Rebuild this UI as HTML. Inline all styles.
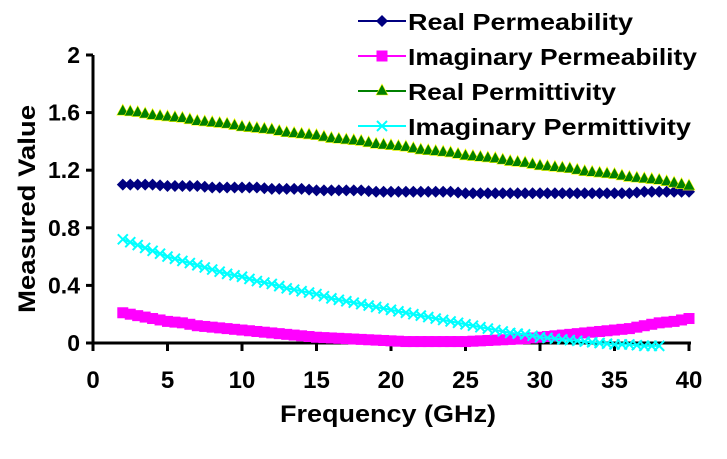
<!DOCTYPE html>
<html><head><meta charset="utf-8"><style>
body{margin:0;background:#fff;}
text{font-family:"Liberation Sans",Arial,sans-serif;font-weight:bold;}
</style></head><body>
<svg id="chart" width="727" height="454" xmlns="http://www.w3.org/2000/svg"></svg>
<script>
const freqs=[2,3,4,5,6,7,8,9,10,11,12,13,14,15,16,17,18,19,20,21,22,23,24,25,26,27,28,29,30,31,32,33,34,35,36,37,38,39,40];
const realPerm=[1.10,1.10,1.10,1.09,1.09,1.09,1.08,1.08,1.08,1.08,1.07,1.07,1.07,1.06,1.06,1.06,1.06,1.05,1.05,1.05,1.05,1.05,1.05,1.04,1.04,1.04,1.04,1.04,1.04,1.04,1.04,1.04,1.04,1.04,1.04,1.05,1.05,1.05,1.05];
const imagPerm=[0.21,0.19,0.17,0.15,0.14,0.12,0.11,0.10,0.09,0.08,0.07,0.06,0.05,0.04,0.035,0.03,0.025,0.02,0.015,0.01,0.01,0.01,0.01,0.01,0.015,0.02,0.025,0.03,0.04,0.05,0.06,0.07,0.08,0.09,0.10,0.12,0.14,0.15,0.17];
const realPermit=[1.61,1.60,1.58,1.57,1.56,1.54,1.53,1.52,1.50,1.49,1.48,1.46,1.45,1.44,1.42,1.41,1.40,1.38,1.37,1.36,1.34,1.33,1.32,1.30,1.29,1.28,1.26,1.25,1.23,1.22,1.21,1.19,1.18,1.17,1.15,1.14,1.13,1.11,1.09];
const imagPermit=[0.72,0.68,0.64,0.60,0.57,0.54,0.51,0.48,0.46,0.43,0.41,0.38,0.36,0.34,0.31,0.29,0.27,0.25,0.23,0.21,0.19,0.17,0.15,0.13,0.11,0.09,0.07,0.06,0.04,0.03,0.02,0.01,0.0,-0.01,-0.01,-0.02,-0.02,null,null];
const xTicks=[0,5,10,15,20,25,30,35,40];
const yTicks=[0,0.4,0.8,1.2,1.6,2];
const yTickLabels=["0","0.4","0.8","1.2","1.6","2"];
const seriesNames=["Real Permeability","Imaginary Permeability","Real Permittivity","Imaginary Permittivity"];
const legendWidths=[225,289,208,283];

const NS="http://www.w3.org/2000/svg";
const svg=document.getElementById('chart');
const X0=93,X1=689,Y0=343,Y1=55;
const xs=v=>X0+(v-0)/(40-0)*(X1-X0);
const ys=v=>Y0-(v-0)/(2-0)*(Y0-Y1);
function mk(tag,attrs,parent){const e=document.createElementNS(NS,tag);for(const k in attrs)e.setAttribute(k,attrs[k]);(parent||svg).appendChild(e);return e;}

const ax=mk('g',{});


mk('line',{x1:X0,y1:Y0,x2:X1+2,y2:Y0,stroke:'#000','stroke-width':3},ax);
mk('line',{x1:X0,y1:Y0+1,x2:X0,y2:Y1,stroke:'#000','stroke-width':3},ax);
xTicks.forEach(t=>{
  mk('line',{x1:xs(t),y1:Y0,x2:xs(t),y2:Y0+8,stroke:'#000','stroke-width':3},ax);
  const tx=mk('text',{x:xs(t),y:388,'text-anchor':'middle','font-size':24},ax);
  tx.textContent=t;
  
  
});
yTicks.forEach((t,i)=>{
  mk('line',{x1:X0-7,y1:ys(t),x2:X0,y2:ys(t),stroke:'#000','stroke-width':3},ax);
  const tx=mk('text',{x:80,y:ys(t)+8,'text-anchor':'end','font-size':23},ax);
  tx.textContent=yTickLabels[i];
  
  
});
const xt=mk('text',{x:280,y:422,'font-size':24,textLength:216,lengthAdjust:'spacingAndGlyphs'});
xt.textContent='Frequency (GHz)';


const yt=mk('text',{x:-104,y:0,'font-size':24,textLength:208,lengthAdjust:'spacingAndGlyphs',transform:'translate(35,209) rotate(-90)'});
yt.textContent='Measured Value';



function marker(type,x,y,g){
  if(type==0) mk('polygon',{points:`${x},${y-6} ${x+6},${y} ${x},${y+6} ${x-6},${y}`,fill:'#000080'},g);
  else if(type==1) mk('rect',{x:x-5.5,y:y-5.5,width:11,height:11,fill:'#ff00ff'},g);
  else if(type==2) mk('polygon',{points:`${x},${y-7} ${x+6},${y+4} ${x-6},${y+4}`,fill:'#008000',stroke:'#ffff00','stroke-width':0.6},g);
  else { mk('path',{d:`M${x-5},${y-5}L${x+5},${y+5}M${x+5},${y-5}L${x-5},${y+5}`,stroke:'#00ffff','stroke-width':2},g); }
}
const colors=['#000080','#ff00ff','#008000','#00ffff'];
const series=[realPerm,imagPerm,realPermit,imagPermit];
const names=['series-real-permeability','series-imaginary-permeability','series-real-permittivity','series-imaginary-permittivity'];
series.forEach((vals,si)=>{
  const g=mk('g',{});
  
  
  let d='';
  vals.forEach((v,i)=>{ if(v===null) return; d+=(d?'L':'M')+xs(freqs[i])+','+ys(v); });
  mk('path',{d:d,fill:'none',stroke:colors[si],'stroke-width':2},g);
  vals.forEach((v,i)=>{ if(v===null) return; marker(si,xs(freqs[i]),ys(v),g);
    if(i<vals.length-1 && vals[i+1]!==null) marker(si,(xs(freqs[i])+xs(freqs[i+1]))/2,(ys(v)+ys(vals[i+1]))/2,g); });
});

const lg=mk('g',{});


seriesNames.forEach((n,i)=>{
  const y=21+i*35;
  const e=mk('g',{},lg);
  
  
  mk('line',{x1:358,y1:y,x2:406,y2:y,stroke:colors[i],'stroke-width':2},e);
  marker(i,382,y,e);
  const t=mk('text',{x:408,y:y+9,'font-size':23,textLength:legendWidths[i],lengthAdjust:'spacingAndGlyphs'},e);
  t.textContent=n;
});
</script>
</body></html>
